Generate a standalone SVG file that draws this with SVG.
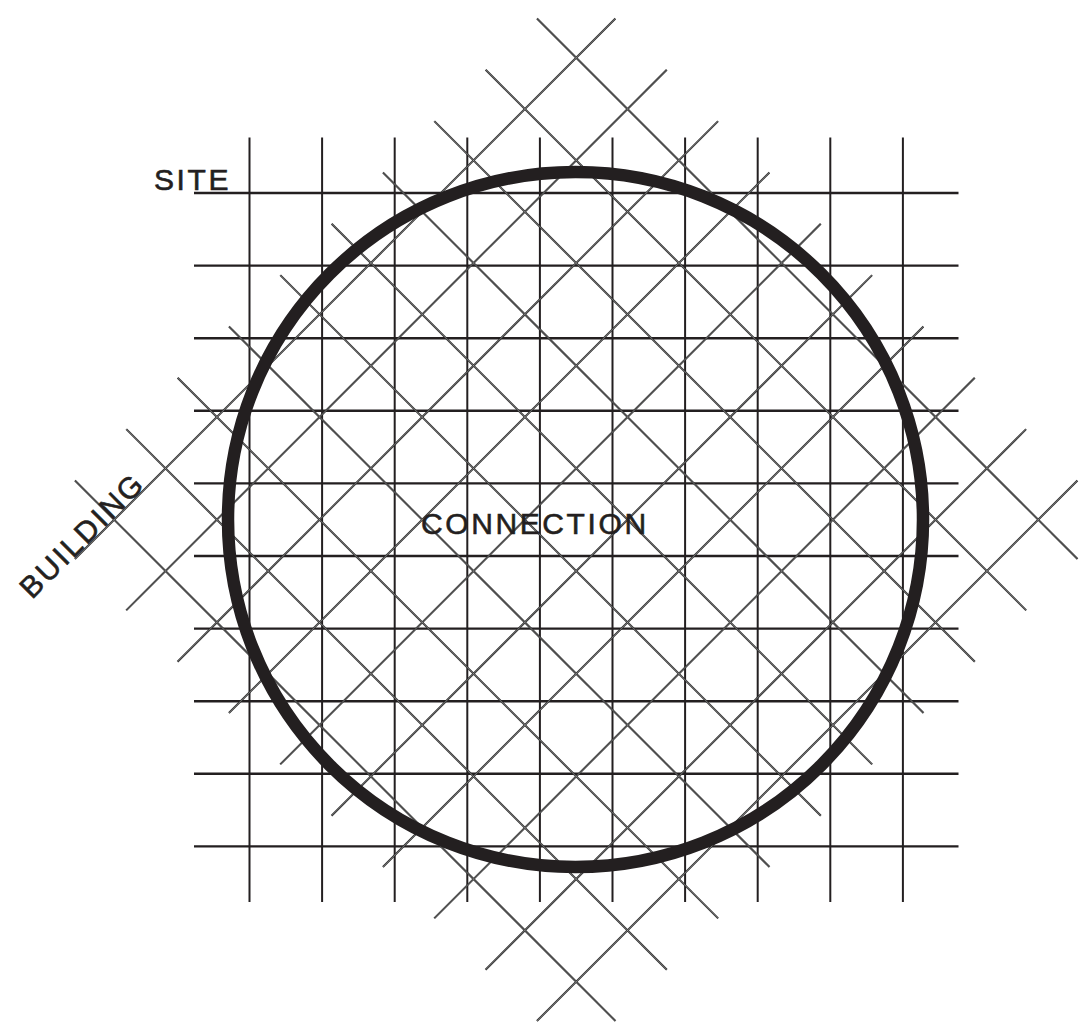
<svg xmlns="http://www.w3.org/2000/svg" xmlns:xlink="http://www.w3.org/1999/xlink" width="1080" height="1027" viewBox="0 0 1080 1027">
  <style>
    .v { stroke: #231f20; stroke-width: 2; fill: none; }
    .h { stroke: #231f20; stroke-width: 2.4; fill: none; }
    .dg { stroke: #2b2b2b; stroke-width: 2; fill: none; }
    .dgi { stroke: #ffffff; stroke-width: 0.6; stroke-opacity: 0.55; fill: none; }
    .lbl { font-family: "Liberation Sans", Arial, sans-serif; font-size: 30px; fill: #231f20; stroke: #231f20; stroke-width: 0.6px; letter-spacing: 2.6px; }
  </style>
  <defs>
    <g id="grid-v">
      <line x1="249.5" y1="137.5" x2="249.5" y2="902"/>
      <line x1="322.1" y1="137.5" x2="322.1" y2="902"/>
      <line x1="394.7" y1="137.5" x2="394.7" y2="902"/>
      <line x1="467.3" y1="137.5" x2="467.3" y2="902"/>
      <line x1="539.9" y1="137.5" x2="539.9" y2="902"/>
      <line x1="612.5" y1="137.5" x2="612.5" y2="902"/>
      <line x1="685.1" y1="137.5" x2="685.1" y2="902"/>
      <line x1="757.7" y1="137.5" x2="757.7" y2="902"/>
      <line x1="830.3" y1="137.5" x2="830.3" y2="902"/>
      <line x1="902.9" y1="137.5" x2="902.9" y2="902"/>
    </g>
    <g id="grid-h">
      <line x1="194" y1="193" x2="958.5" y2="193"/>
      <line x1="194" y1="265.6" x2="958.5" y2="265.6"/>
      <line x1="194" y1="338.2" x2="958.5" y2="338.2"/>
      <line x1="194" y1="410.8" x2="958.5" y2="410.8"/>
      <line x1="194" y1="483.4" x2="958.5" y2="483.4"/>
      <line x1="194" y1="556" x2="958.5" y2="556"/>
      <line x1="194" y1="628.6" x2="958.5" y2="628.6"/>
      <line x1="194" y1="701.2" x2="958.5" y2="701.2"/>
      <line x1="194" y1="773.8" x2="958.5" y2="773.8"/>
      <line x1="194" y1="846.4" x2="958.5" y2="846.4"/>
    </g>
  </defs>

  <g id="site-grid">
    <use xlink:href="#grid-v" class="v"/>
    <use xlink:href="#grid-h" class="h"/>
  </g>

  <g id="building-grid" transform="rotate(45 576.2 519.7)">
    <use xlink:href="#grid-v" class="dg"/>
    <use xlink:href="#grid-h" class="dg"/>
    <use xlink:href="#grid-v" class="dgi"/>
    <use xlink:href="#grid-h" class="dgi"/>
  </g>

  <g id="connection-circle">
    <circle cx="575.5" cy="519.5" r="347.5" fill="none" stroke="#231f20" stroke-width="12.5"/>
  </g>

  <g id="labels">
    <text class="lbl" x="154" y="189.5">SITE</text>
    <text class="lbl" x="421" y="533.5">CONNECTION</text>
    <text class="lbl" x="32" y="600" transform="rotate(-45 32 600)">BUILDING</text>
  </g>
</svg>
